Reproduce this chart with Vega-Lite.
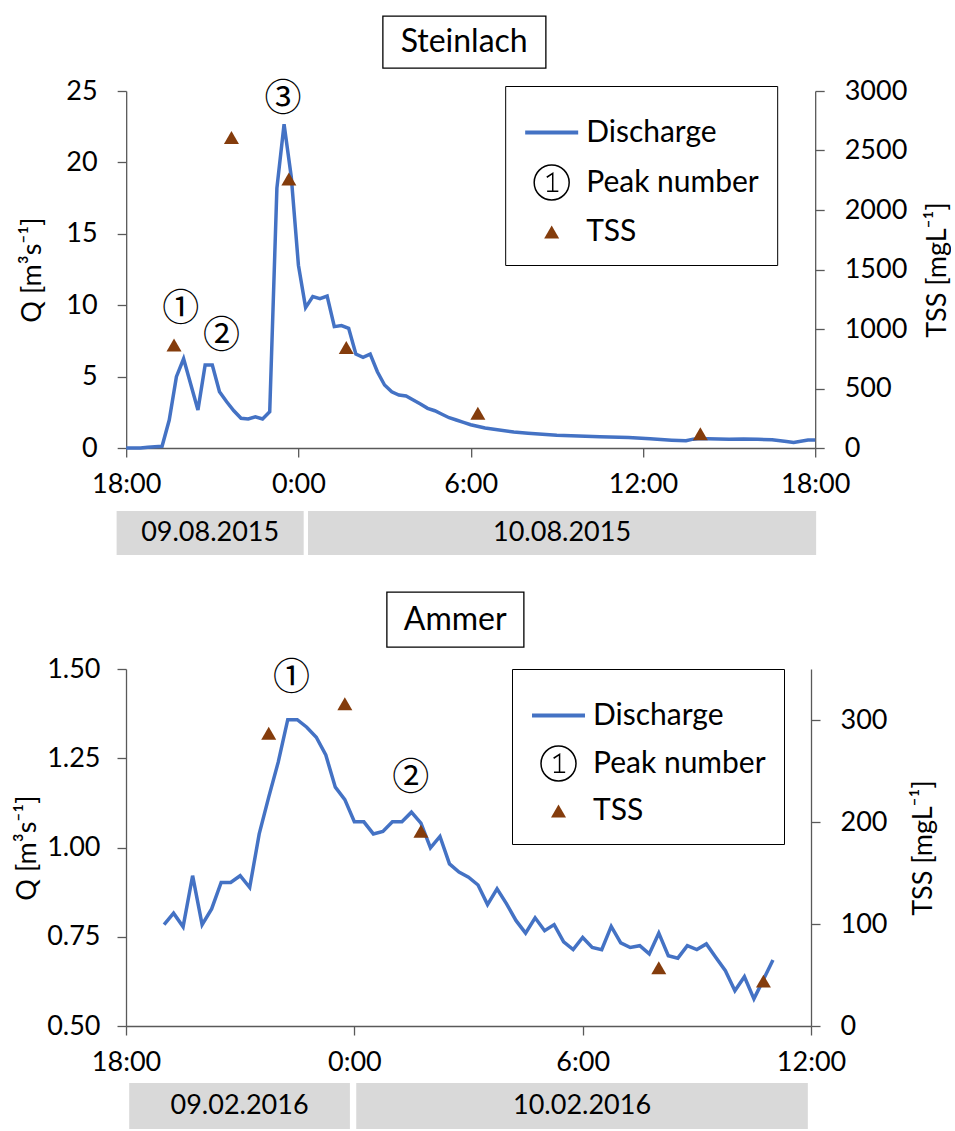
{
  "$schema": "https://vega.github.io/schema/vega-lite/v6.json",
  "background": "white",
  "padding": {"left": 13, "top": 15, "right": 0, "bottom": 0},
  "config": {
    "font": "Lato",
    "view": {"stroke": null},
    "axis": {
      "grid": false,
      "labelFont": "Lato", "labelFontSize": 27, "labelColor": "black",
      "titleFont": "Lato", "titleFontSize": 27, "titleFontWeight": "normal", "titleColor": "black",
      "domainColor": "#595959", "tickColor": "#595959", "domainWidth": 1.3, "tickWidth": 1.3, "tickSize": 9,
      "labelFlush": false, "labelOverlap": false
    },
    "legend": {
      "title": null, "orient": "none",
      "strokeColor": "black", "fillColor": "white", "padding": 18,
      "labelFont": "Lato", "labelFontSize": 30, "labelColor": "black", "labelOffset": 6, "labelLimit": 400
    },
    "text": {"font": "Lato", "color": "black"}
  },
  "resolve": {"scale": {"shape": "independent", "size": "independent", "fill": "independent", "stroke": "independent", "strokeWidth": "independent"}, "legend": {"shape": "independent", "size": "independent", "fill": "independent", "stroke": "independent", "strokeWidth": "independent"}},
  "columns": 1,
  "spacing": 36,
  "concat": [
    {
      "center": true,
      "spacing": 8,
      "resolve": {"scale": {"shape": "independent", "size": "independent", "fill": "independent", "stroke": "independent", "strokeWidth": "independent"}, "legend": {"shape": "independent", "size": "independent", "fill": "independent", "stroke": "independent", "strokeWidth": "independent"}},
      "vconcat": [
        {
          "width": 163, "height": 52,
          "view": {"stroke": "black", "strokeWidth": 1.3},
          "data": {"values": [{"name": "Steinlach"}]},
          "mark": {"type": "text", "fontSize": 32},
          "encoding": {
            "text": {"field": "name"},
            "y": {"field": "name", "type": "nominal",
              "axis": {"orient": "right", "labels": false, "ticks": false, "domain": false, "title": null, "minExtent": 148, "maxExtent": 148}}
          }
        },
        {
          "spacing": 14,
          "resolve": {"scale": {"shape": "independent", "size": "independent", "fill": "independent", "stroke": "independent", "strokeWidth": "independent"}, "legend": {"shape": "independent", "size": "independent", "fill": "independent", "stroke": "independent", "strokeWidth": "independent"}},
          "vconcat": [
            {
              "width": 689, "height": 357,
              "resolve": {"scale": {"y": "independent"}},
              "layer": [
                {
                  "data": {"values": [
                    {"time": "2015-08-09T18:00", "q": 0.0},
                    {"time": "2015-08-09T18:15", "q": 0.0},
                    {"time": "2015-08-09T18:30", "q": 0.0},
                    {"time": "2015-08-09T18:45", "q": 0.05},
                    {"time": "2015-08-09T19:00", "q": 0.08},
                    {"time": "2015-08-09T19:15", "q": 0.12},
                    {"time": "2015-08-09T19:30", "q": 1.96},
                    {"time": "2015-08-09T19:45", "q": 5.0},
                    {"time": "2015-08-09T20:00", "q": 6.25},
                    {"time": "2015-08-09T20:30", "q": 2.66},
                    {"time": "2015-08-09T20:45", "q": 5.81},
                    {"time": "2015-08-09T21:00", "q": 5.81},
                    {"time": "2015-08-09T21:15", "q": 3.94},
                    {"time": "2015-08-09T21:30", "q": 3.24},
                    {"time": "2015-08-09T21:45", "q": 2.61},
                    {"time": "2015-08-09T22:00", "q": 2.08},
                    {"time": "2015-08-09T22:15", "q": 2.03},
                    {"time": "2015-08-09T22:30", "q": 2.19},
                    {"time": "2015-08-09T22:45", "q": 2.03},
                    {"time": "2015-08-09T23:00", "q": 2.54},
                    {"time": "2015-08-09T23:15", "q": 18.2},
                    {"time": "2015-08-09T23:30", "q": 22.67},
                    {"time": "2015-08-09T23:45", "q": 19.0},
                    {"time": "2015-08-10T00:00", "q": 12.8},
                    {"time": "2015-08-10T00:15", "q": 9.83},
                    {"time": "2015-08-10T00:30", "q": 10.6},
                    {"time": "2015-08-10T00:45", "q": 10.46},
                    {"time": "2015-08-10T01:00", "q": 10.64},
                    {"time": "2015-08-10T01:15", "q": 8.5},
                    {"time": "2015-08-10T01:30", "q": 8.57},
                    {"time": "2015-08-10T01:45", "q": 8.38},
                    {"time": "2015-08-10T02:00", "q": 6.58},
                    {"time": "2015-08-10T02:15", "q": 6.35},
                    {"time": "2015-08-10T02:30", "q": 6.58},
                    {"time": "2015-08-10T02:45", "q": 5.34},
                    {"time": "2015-08-10T03:00", "q": 4.41},
                    {"time": "2015-08-10T03:15", "q": 3.94},
                    {"time": "2015-08-10T03:30", "q": 3.71},
                    {"time": "2015-08-10T03:45", "q": 3.64},
                    {"time": "2015-08-10T04:00", "q": 3.36},
                    {"time": "2015-08-10T04:15", "q": 3.08},
                    {"time": "2015-08-10T04:30", "q": 2.78},
                    {"time": "2015-08-10T04:45", "q": 2.61},
                    {"time": "2015-08-10T05:00", "q": 2.36},
                    {"time": "2015-08-10T05:15", "q": 2.12},
                    {"time": "2015-08-10T05:30", "q": 1.96},
                    {"time": "2015-08-10T05:45", "q": 1.8},
                    {"time": "2015-08-10T06:00", "q": 1.63},
                    {"time": "2015-08-10T06:30", "q": 1.4},
                    {"time": "2015-08-10T07:30", "q": 1.12},
                    {"time": "2015-08-10T08:00", "q": 1.04},
                    {"time": "2015-08-10T09:00", "q": 0.9},
                    {"time": "2015-08-10T09:45", "q": 0.84},
                    {"time": "2015-08-10T10:30", "q": 0.79},
                    {"time": "2015-08-10T11:30", "q": 0.74},
                    {"time": "2015-08-10T12:15", "q": 0.64},
                    {"time": "2015-08-10T13:00", "q": 0.55},
                    {"time": "2015-08-10T13:30", "q": 0.51},
                    {"time": "2015-08-10T13:45", "q": 0.62},
                    {"time": "2015-08-10T14:00", "q": 0.66},
                    {"time": "2015-08-10T14:15", "q": 0.65},
                    {"time": "2015-08-10T15:00", "q": 0.61},
                    {"time": "2015-08-10T15:30", "q": 0.63},
                    {"time": "2015-08-10T16:00", "q": 0.61},
                    {"time": "2015-08-10T16:30", "q": 0.57},
                    {"time": "2015-08-10T17:00", "q": 0.45},
                    {"time": "2015-08-10T17:15", "q": 0.38},
                    {"time": "2015-08-10T17:45", "q": 0.56},
                    {"time": "2015-08-10T18:00", "q": 0.56}
                  ]},
                  "mark": {"type": "line", "color": "#4472C4", "strokeWidth": 3.5},
                  "encoding": {
                    "x": {"field": "time", "type": "temporal",
                      "scale": {"domain": ["2015-08-09T18:00", "2015-08-10T18:00"]},
                      "axis": {"title": null, "format": "%-H:%M", "tickCount": 5, "labelPadding": 14}},
                    "y": {"field": "q", "type": "quantitative",
                      "scale": {"domain": [0, 25]},
                      "axis": {"title": "Q [m³s⁻¹]", "values": [0, 5, 10, 15, 20, 25], "labelPadding": 20, "titlePadding": 19}}
                  }
                },
                {
                  "data": {"values": [
                    {"time": "2015-08-09T19:54", "q": 9.85, "peak": "①"},
                    {"time": "2015-08-09T21:19", "q": 8.0, "peak": "②"},
                    {"time": "2015-08-09T23:28", "q": 24.6, "peak": "③"}
                  ]},
                  "mark": {"type": "text", "font": "Noto Sans CJK JP", "fontSize": 37, "dy": 3},
                  "encoding": {
                    "x": {"field": "time", "type": "temporal"},
                    "y": {"field": "q", "type": "quantitative", "scale": {"domain": [0, 25]}, "axis": null},
                    "text": {"field": "peak"}
                  }
                },
                {
                  "data": {"values": [
                    {"time": "2015-08-09T19:40", "tss": 865, "series": "TSS"},
                    {"time": "2015-08-09T21:40", "tss": 2610, "series": "TSS"},
                    {"time": "2015-08-09T23:40", "tss": 2260, "series": "TSS"},
                    {"time": "2015-08-10T01:40", "tss": 845, "series": "TSS"},
                    {"time": "2015-08-10T06:15", "tss": 292, "series": "TSS"},
                    {"time": "2015-08-10T14:00", "tss": 120, "series": "TSS"}
                  ]},
                  "mark": {"type": "point", "filled": true, "opacity": 1},
                  "encoding": {
                    "x": {"field": "time", "type": "temporal"},
                    "y": {"field": "tss", "type": "quantitative",
                      "scale": {"domain": [0, 3000]},
                      "axis": {"orient": "right", "title": "TSS [mgL⁻¹]", "format": "d", "values": [0, 500, 1000, 1500, 2000, 2500, 3000], "labelPadding": 20, "titlePadding": 18, "titleAngle": 270, "titleBaseline": "top"}},
                    "shape": {"field": "series", "type": "nominal",
                      "scale": {"domain": ["Discharge", "Peak number", "TSS"], "range": ["stroke", "M1,0A1,1,0,1,1,-1,0A1,1,0,1,1,1,0Z M-0.28,-0.3L0.06,-0.52L0.06,0.5M-0.26,0.5L0.38,0.5", "triangle-up"]},
                      "legend": {"legendX": 379, "legendY": -5, "rowPadding": 14}},
                    "size": {"field": "series", "type": "nominal",
                      "scale": {"type": "ordinal", "domain": ["Discharge", "Peak number", "TSS"], "range": [2809, 1225, 225]}},
                    "fill": {"field": "series", "type": "nominal",
                      "scale": {"domain": ["Discharge", "Peak number", "TSS"], "range": ["transparent", "transparent", "#843C0C"]}},
                    "stroke": {"field": "series", "type": "nominal",
                      "scale": {"domain": ["Discharge", "Peak number", "TSS"], "range": ["#4472C4", "black", "transparent"]}},
                    "strokeWidth": {"field": "series", "type": "nominal",
                      "scale": {"type": "ordinal", "domain": ["Discharge", "Peak number", "TSS"], "range": [4, 1.5, 0]}}
                  }
                }
              ]
            },
            {
              "width": 689, "height": 44,
              "data": {"values": [
                {"label": "09.08.2015", "start": "2015-08-09T17:40", "end": "2015-08-10T00:11"},
                {"label": "10.08.2015", "start": "2015-08-10T00:20", "end": "2015-08-10T18:02"}
              ]},
              "transform": [{"calculate": "(time(datum.start) + time(datum.end)) / 2", "as": "mid"}],
              "layer": [
                {
                  "mark": {"type": "rect", "color": "#D9D9D9"},
                  "encoding": {
                    "x": {"field": "start", "type": "temporal", "axis": null,
                      "scale": {"domain": ["2015-08-09T18:00", "2015-08-10T18:00"]}},
                    "x2": {"field": "end"}
                  }
                },
                {
                  "mark": {"type": "text", "fontSize": 27},
                  "encoding": {
                    "x": {"field": "mid", "type": "temporal"},
                    "text": {"field": "label"}
                  }
                }
              ]
            }
          ]
        }
      ]
    },
    {
      "center": true,
      "spacing": 7,
      "resolve": {"scale": {"shape": "independent", "size": "independent", "fill": "independent", "stroke": "independent", "strokeWidth": "independent"}, "legend": {"shape": "independent", "size": "independent", "fill": "independent", "stroke": "independent", "strokeWidth": "independent"}},
      "vconcat": [
        {
          "width": 137, "height": 55,
          "view": {"stroke": "black", "strokeWidth": 1.3},
          "data": {"values": [{"name": "Ammer"}]},
          "mark": {"type": "text", "fontSize": 32},
          "encoding": {
            "text": {"field": "name"},
            "y": {"field": "name", "type": "nominal",
              "axis": {"orient": "right", "labels": false, "ticks": false, "domain": false, "title": null, "minExtent": 152, "maxExtent": 152}}
          }
        },
        {
          "spacing": 8,
          "resolve": {"scale": {"shape": "independent", "size": "independent", "fill": "independent", "stroke": "independent", "strokeWidth": "independent"}, "legend": {"shape": "independent", "size": "independent", "fill": "independent", "stroke": "independent", "strokeWidth": "independent"}},
          "vconcat": [
            {
              "width": 685, "height": 357,
              "resolve": {"scale": {"y": "independent"}},
              "layer": [
                {
                  "data": {"values": [
                    {"time": "2016-02-09T19:00", "q": 0.784},
                    {"time": "2016-02-09T19:15", "q": 0.816},
                    {"time": "2016-02-09T19:30", "q": 0.778},
                    {"time": "2016-02-09T19:45", "q": 0.921},
                    {"time": "2016-02-09T20:00", "q": 0.784},
                    {"time": "2016-02-09T20:15", "q": 0.828},
                    {"time": "2016-02-09T20:30", "q": 0.902},
                    {"time": "2016-02-09T20:45", "q": 0.902},
                    {"time": "2016-02-09T21:00", "q": 0.921},
                    {"time": "2016-02-09T21:15", "q": 0.888},
                    {"time": "2016-02-09T21:30", "q": 1.038},
                    {"time": "2016-02-09T21:45", "q": 1.141},
                    {"time": "2016-02-09T22:00", "q": 1.239},
                    {"time": "2016-02-09T22:15", "q": 1.358},
                    {"time": "2016-02-09T22:30", "q": 1.358},
                    {"time": "2016-02-09T22:45", "q": 1.337},
                    {"time": "2016-02-09T23:00", "q": 1.309},
                    {"time": "2016-02-09T23:15", "q": 1.259},
                    {"time": "2016-02-09T23:30", "q": 1.169},
                    {"time": "2016-02-09T23:45", "q": 1.134},
                    {"time": "2016-02-10T00:00", "q": 1.072},
                    {"time": "2016-02-10T00:15", "q": 1.072},
                    {"time": "2016-02-10T00:30", "q": 1.038},
                    {"time": "2016-02-10T00:45", "q": 1.045},
                    {"time": "2016-02-10T01:00", "q": 1.072},
                    {"time": "2016-02-10T01:15", "q": 1.072},
                    {"time": "2016-02-10T01:30", "q": 1.099},
                    {"time": "2016-02-10T01:45", "q": 1.068},
                    {"time": "2016-02-10T02:00", "q": 0.999},
                    {"time": "2016-02-10T02:15", "q": 1.031},
                    {"time": "2016-02-10T02:30", "q": 0.954},
                    {"time": "2016-02-10T02:45", "q": 0.931},
                    {"time": "2016-02-10T03:00", "q": 0.917},
                    {"time": "2016-02-10T03:15", "q": 0.895},
                    {"time": "2016-02-10T03:30", "q": 0.84},
                    {"time": "2016-02-10T03:45", "q": 0.884},
                    {"time": "2016-02-10T04:00", "q": 0.842},
                    {"time": "2016-02-10T04:15", "q": 0.795},
                    {"time": "2016-02-10T04:30", "q": 0.76},
                    {"time": "2016-02-10T04:45", "q": 0.803},
                    {"time": "2016-02-10T05:00", "q": 0.767},
                    {"time": "2016-02-10T05:15", "q": 0.784},
                    {"time": "2016-02-10T05:30", "q": 0.736},
                    {"time": "2016-02-10T05:45", "q": 0.714},
                    {"time": "2016-02-10T06:00", "q": 0.748},
                    {"time": "2016-02-10T06:15", "q": 0.72},
                    {"time": "2016-02-10T06:30", "q": 0.714},
                    {"time": "2016-02-10T06:45", "q": 0.779},
                    {"time": "2016-02-10T07:00", "q": 0.733},
                    {"time": "2016-02-10T07:15", "q": 0.72},
                    {"time": "2016-02-10T07:30", "q": 0.725},
                    {"time": "2016-02-10T07:45", "q": 0.702},
                    {"time": "2016-02-10T08:00", "q": 0.76},
                    {"time": "2016-02-10T08:15", "q": 0.697},
                    {"time": "2016-02-10T08:30", "q": 0.69},
                    {"time": "2016-02-10T08:45", "q": 0.725},
                    {"time": "2016-02-10T09:00", "q": 0.714},
                    {"time": "2016-02-10T09:15", "q": 0.73},
                    {"time": "2016-02-10T09:30", "q": 0.692},
                    {"time": "2016-02-10T09:45", "q": 0.655},
                    {"time": "2016-02-10T10:00", "q": 0.599},
                    {"time": "2016-02-10T10:15", "q": 0.638},
                    {"time": "2016-02-10T10:30", "q": 0.576},
                    {"time": "2016-02-10T10:45", "q": 0.63},
                    {"time": "2016-02-10T11:00", "q": 0.685}
                  ]},
                  "mark": {"type": "line", "color": "#4472C4", "strokeWidth": 3.5},
                  "encoding": {
                    "x": {"field": "time", "type": "temporal",
                      "scale": {"domain": ["2016-02-09T18:00", "2016-02-10T12:00"]},
                      "axis": {"title": null, "format": "%-H:%M", "tickCount": 4, "labelPadding": 14}},
                    "y": {"field": "q", "type": "quantitative",
                      "scale": {"domain": [0.5, 1.5], "zero": false},
                      "axis": {"title": "Q [m³s⁻¹]", "values": [0.5, 0.75, 1, 1.25, 1.5], "format": ".2f", "labelPadding": 17, "titlePadding": 5}}
                  }
                },
                {
                  "data": {"values": [
                    {"time": "2016-02-09T22:21", "q": 1.477, "peak": "①"},
                    {"time": "2016-02-10T01:29", "q": 1.197, "peak": "②"}
                  ]},
                  "mark": {"type": "text", "font": "Noto Sans CJK JP", "fontSize": 37, "dy": 2},
                  "encoding": {
                    "x": {"field": "time", "type": "temporal"},
                    "y": {"field": "q", "type": "quantitative", "scale": {"domain": [0.5, 1.5], "zero": false}, "axis": null},
                    "text": {"field": "peak"}
                  }
                },
                {
                  "data": {"values": [
                    {"time": "2016-02-09T21:45", "tss": 287, "series": "TSS"},
                    {"time": "2016-02-09T23:45", "tss": 316, "series": "TSS"},
                    {"time": "2016-02-10T01:45", "tss": 191, "series": "TSS"},
                    {"time": "2016-02-10T08:00", "tss": 57, "series": "TSS"},
                    {"time": "2016-02-10T10:45", "tss": 44, "series": "TSS"}
                  ]},
                  "mark": {"type": "point", "filled": true, "opacity": 1},
                  "encoding": {
                    "x": {"field": "time", "type": "temporal"},
                    "y": {"field": "tss", "type": "quantitative",
                      "scale": {"domain": [0, 350]},
                      "axis": {"orient": "right", "title": "TSS [mgL⁻¹]", "format": "d", "values": [0, 100, 200, 300], "labelPadding": 20, "titlePadding": 24, "titleAngle": 270, "titleBaseline": "top"}},
                    "shape": {"field": "series", "type": "nominal",
                      "scale": {"domain": ["Discharge", "Peak number", "TSS"], "range": ["stroke", "M1,0A1,1,0,1,1,-1,0A1,1,0,1,1,1,0Z M-0.28,-0.3L0.06,-0.52L0.06,0.5M-0.26,0.5L0.38,0.5", "triangle-up"]},
                      "legend": {"legendX": 386, "legendY": 0, "rowPadding": 12}},
                    "size": {"field": "series", "type": "nominal",
                      "scale": {"type": "ordinal", "domain": ["Discharge", "Peak number", "TSS"], "range": [2809, 1225, 225]}},
                    "fill": {"field": "series", "type": "nominal",
                      "scale": {"domain": ["Discharge", "Peak number", "TSS"], "range": ["transparent", "transparent", "#843C0C"]}},
                    "stroke": {"field": "series", "type": "nominal",
                      "scale": {"domain": ["Discharge", "Peak number", "TSS"], "range": ["#4472C4", "black", "transparent"]}},
                    "strokeWidth": {"field": "series", "type": "nominal",
                      "scale": {"type": "ordinal", "domain": ["Discharge", "Peak number", "TSS"], "range": [4, 1.5, 0]}}
                  }
                }
              ]
            },
            {
              "width": 685, "height": 46,
              "data": {"values": [
                {"label": "09.02.2016", "start": "2016-02-09T18:05", "end": "2016-02-09T23:53"},
                {"label": "10.02.2016", "start": "2016-02-10T00:03", "end": "2016-02-10T11:55"}
              ]},
              "transform": [{"calculate": "(time(datum.start) + time(datum.end)) / 2", "as": "mid"}],
              "layer": [
                {
                  "mark": {"type": "rect", "color": "#D9D9D9"},
                  "encoding": {
                    "x": {"field": "start", "type": "temporal", "axis": null,
                      "scale": {"domain": ["2016-02-09T18:00", "2016-02-10T12:00"]}},
                    "x2": {"field": "end"}
                  }
                },
                {
                  "mark": {"type": "text", "fontSize": 27},
                  "encoding": {
                    "x": {"field": "mid", "type": "temporal"},
                    "text": {"field": "label"}
                  }
                }
              ]
            }
          ]
        }
      ]
    }
  ]
}
